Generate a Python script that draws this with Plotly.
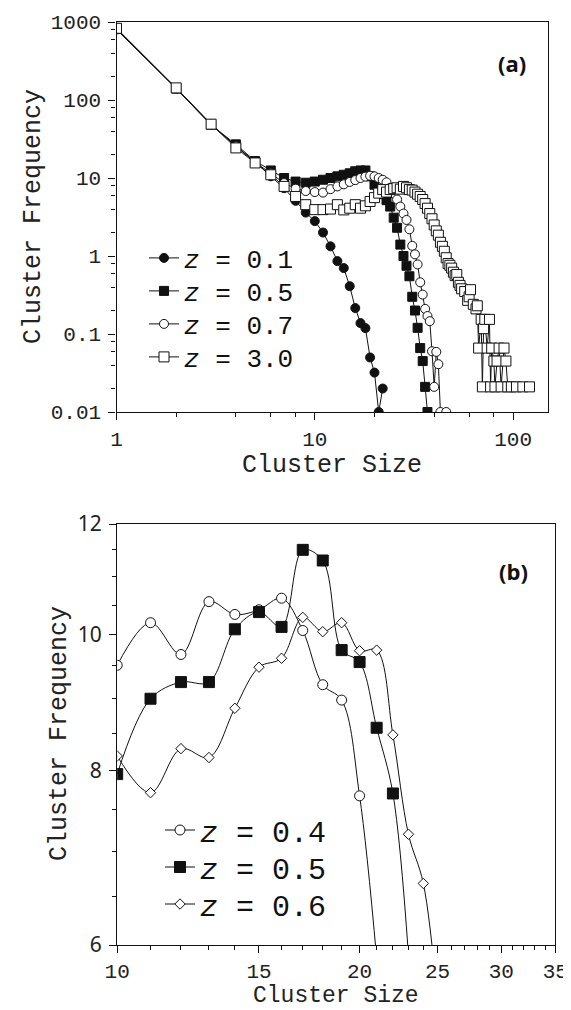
import plotly.graph_objects as go

# ---------------- Panel (a) data ----------------
size_a01 = [1, 2, 3, 4, 5, 6, 7, 8, 9, 10, 11, 12, 13, 14, 15, 16, 17, 18, 19, 20, 21, 22]
freq_a01 = [800, 140, 48, 26, 16, 10.5, 7.4, 5.1, 3.6, 2.8, 2.0, 1.33, 0.86, 0.70, 0.41, 0.215,
            0.138, 0.119, 0.050, 0.032, 0.01, 0.020]

size_a05 = [1, 2, 3, 4, 5, 6, 7, 8, 9, 10, 11, 12, 13, 14, 15, 16, 17, 18, 19, 20, 21, 22, 23, 24,
            25, 26, 27, 28, 29, 30, 31, 32, 33, 34, 35, 36, 37]
freq_a05 = [820, 140, 48, 27, 16.5, 12.5, 10, 9, 8.7, 9.0, 9.5, 10, 10.5, 11, 11.5, 12.2, 12.5, 12.5,
            10.5, 8.2, 7.0, 6.2, 5.2, 4.3, 3.1, 2.3, 1.4, 1.0, 0.75, 0.55, 0.3, 0.2, 0.12, 0.066,
            0.045, 0.021, 0.01]

size_a07 = [1, 2, 3, 4, 5, 6, 7, 8, 9, 10, 11, 12, 13, 14, 15, 16, 17, 18, 19, 20, 21, 22, 23, 24,
            25, 26, 27, 28, 29, 30, 31, 32, 33, 34, 35, 36, 37, 38, 39, 40, 41, 42, 43, 46]
freq_a07 = [810, 142, 49, 25.5, 16, 11.5, 8.6, 7.3, 6.8, 6.6, 6.5, 7.2, 7.8, 8.3, 8.9, 9.4, 10,
            10.4, 10.7, 10.5, 10, 9.5, 8.8, 7.5, 6.3, 5.3, 4.3, 3.5, 2.9, 2.2, 1.35, 1.05, 0.78,
            0.46, 0.32, 0.21, 0.17, 0.146, 0.06, 0.021, 0.059, 0.041, 0.01, 0.01]

size_a30 = [1, 2, 3, 4, 5, 6, 7, 8, 9, 10, 11, 12, 13, 14, 15, 16, 17, 18, 19, 20, 21, 22, 23, 24,
            25, 26, 27, 28, 29, 30, 31, 32, 33, 34, 35, 36, 37, 38, 39, 40, 41, 42, 43, 44, 45, 46,
            47, 48, 49, 50, 51, 52, 53, 54, 55, 57, 59, 60, 61, 63, 65, 66, 67, 69, 70, 71, 72, 74,
            76, 77, 78, 80, 81, 83, 85, 87, 90, 92, 94, 98, 104, 112, 121]
freq_a30 = [830, 143, 49, 24.3, 15.6, 11.0, 7.8, 5.8, 4.55, 3.93, 3.93, 4.0, 4.55, 3.9, 4.1, 4.55,
            4.1, 4.4, 5.0, 5.6, 6.4, 7.1, 6.6, 7.1, 7.3, 7.5, 7.2, 7.8, 7.5, 7.1, 7.0, 6.6, 6.2,
            5.8, 5.3, 4.7, 4.1, 3.5, 3.0, 2.5, 2.1, 1.85, 1.5, 1.33, 1.15, 0.95, 0.80, 0.76, 0.70,
            0.62, 0.56, 0.58, 0.46, 0.42, 0.38, 0.35, 0.27, 0.30, 0.37, 0.24, 0.21, 0.23, 0.066,
            0.154, 0.021, 0.117, 0.154, 0.066, 0.154, 0.021, 0.066, 0.045, 0.021, 0.045, 0.066,
            0.021, 0.066, 0.045, 0.021, 0.021, 0.021, 0.021, 0.021]

# ---------------- Panel (b) data ----------------
size_b04 = [10, 11, 12, 13, 14, 15, 16, 17, 18, 19, 20, 21]
freq_b04 = [9.51, 10.2, 9.68, 10.56, 10.34, 10.42, 10.62, 10.07, 9.21, 8.98, 7.67, 5.87]

size_b05 = [10, 11, 12, 13, 14, 15, 16, 17, 18, 19, 20, 21, 22, 23]
freq_b05 = [7.95, 9.0, 9.25, 9.25, 10.09, 10.38, 10.13, 11.5, 11.3, 9.75, 9.56, 8.58, 7.70, 5.9]

size_b06 = [10, 11, 12, 13, 14, 15, 16, 17, 18, 19, 20, 21, 22, 23, 24, 25]
freq_b06 = [8.19, 7.71, 8.29, 8.17, 8.86, 9.48, 9.62, 10.29, 10.05, 10.2, 9.74, 9.75, 8.48, 7.2,
            6.64, 5.45]

labels_a = ["<i>z</i> = 0.1", "<i>z</i> = 0.5", "<i>z</i> = 0.7", "<i>z</i> = 3.0"]
labels_b = ["<i>z</i> = 0.4", "<i>z</i> = 0.5", "<i>z</i> = 0.6"]

W, H = 571, 1010
MONO = "Liberation Mono, Courier New, monospace"
BLK = "#111111"

def px_x(p):
    return p / W

def px_y(p):
    return 1 - p / H

fig = go.Figure()

def add(x, y, name, symbol, fill, size, xa, ya, leg, shape="linear"):
    fig.add_trace(go.Scatter(
        x=x, y=y, name=name, mode="lines+markers",
        xaxis=xa, yaxis=ya, legend=leg, showlegend=True,
        line=dict(color=BLK, width=1, shape=shape),
        marker=dict(symbol=symbol, size=size, color=fill,
                    line=dict(color=BLK, width=1)),
    ))

# one single-entry legend per series so the rows can sit at the reference spacing
add(size_a01, freq_a01, labels_a[0], "circle", BLK, 9, "x", "y", "legend")
add(size_a05, freq_a05, labels_a[1], "square", BLK, 9, "x", "y", "legend2")
add(size_a07, freq_a07, labels_a[2], "circle", "white", 9, "x", "y", "legend3")
add(size_a30, freq_a30, labels_a[3], "square", "white", 10, "x", "y", "legend4")

add(size_b04, freq_b04, labels_b[0], "circle", "white", 10, "x2", "y2", "legend5", "spline")
add(size_b05, freq_b05, labels_b[1], "square", BLK, 11, "x2", "y2", "legend6", "spline")
add(size_b06, freq_b06, labels_b[2], "diamond", "white", 8, "x2", "y2", "legend7", "spline")

def leg(xp, yp, size):
    return dict(
        x=px_x(xp), y=px_y(yp), xanchor="left", yanchor="middle",
        bgcolor="rgba(0,0,0,0)", borderwidth=0,
        font=dict(family=MONO, size=size, color="#111"),
        itemwidth=30,
    )

axis_common = dict(
    showgrid=False, zeroline=False, showline=True, mirror=True, automargin=False,
    linecolor=BLK, linewidth=1.3, ticks="outside", tickcolor=BLK,
    tickwidth=1.2, ticklen=7,
)

fig.update_layout(
    width=W, height=H, showlegend=True,
    margin=dict(l=0, r=0, t=0, b=0, autoexpand=False),
    paper_bgcolor="white", plot_bgcolor="white",
    xaxis=dict(
        axis_common, type="log", range=[0, 2.176],
        domain=[px_x(108.5), px_x(540)], anchor="y",
        tickmode="array", tickvals=[1, 10, 100], ticktext=["1", "10", "100"],
        tickfont=dict(family=MONO, size=21, color="#222"),
        ticklabelstandoff=1,
        minor=dict(tickmode="array", tickvals=[2, 4, 6, 8, 20, 40, 60, 80],
                   ticks="outside", ticklen=4, tickcolor=BLK, tickwidth=1),
    ),
    yaxis=dict(
        axis_common, type="log", range=[-2, 3],
        domain=[px_y(404), px_y(14)], anchor="x",
        tickmode="array", tickvals=[0.01, 0.1, 1, 10, 100, 1000],
        ticktext=["0.01", "0.1", "1", "10", "100", "1000"],
        tickfont=dict(family=MONO, size=21, color="#222"),
        ticklabelstandoff=3,
        minor=dict(tickmode="array",
                   tickvals=[0.02, 0.04, 0.06, 0.08, 0.2, 0.4, 0.6, 0.8, 2, 4, 6, 8,
                             20, 40, 60, 80, 200, 400, 600, 800],
                   ticks="outside", ticklen=4, tickcolor=BLK, tickwidth=1),
    ),
    xaxis2=dict(
        axis_common, type="log", range=[1, 1.5441],
        domain=[px_x(109.2), px_x(547.3)], anchor="y2",
        tickmode="array", tickvals=[10, 15, 20, 25, 30, 35],
        ticktext=["10", "15", "20", "25", "30", "35"],
        tickfont=dict(family=MONO, size=21, color="#222"),
        ticklabelstandoff=0,
        minor=dict(tickmode="array",
                   tickvals=[11, 12, 13, 14, 16, 17, 18, 19, 21, 22, 23, 24, 26, 27, 28, 29,
                             31, 32, 33, 34],
                   ticks="outside", ticklen=4, tickcolor=BLK, tickwidth=1),
    ),
    yaxis2=dict(
        axis_common, type="log", range=[0.778151, 1.079181],
        domain=[px_y(937), px_y(516)], anchor="x2",
        tickmode="array", tickvals=[6, 8, 10, 12], ticktext=["6", "8", "10", "12"],
        tickfont=dict(family="Noto Sans", size=21, color="#222"),
        ticklabelstandoff=3,
        minor=dict(tickmode="array",
                   tickvals=[6.5, 7, 7.5, 8.5, 9, 9.5, 10.5, 11, 11.5],
                   ticks="outside", ticklen=4, tickcolor=BLK, tickwidth=1),
    ),
    legend=leg(136, 250, 26),
    legend2=leg(136, 283, 26),
    legend3=leg(136, 316, 26),
    legend4=leg(136, 349, 26),
    legend5=leg(152, 822, 30),
    legend6=leg(152, 859, 30),
    legend7=leg(152, 896, 30),
    annotations=[
        dict(text="<b>(a)</b>", x=px_x(504), y=px_y(55), xref="paper", yref="paper",
             showarrow=False, font=dict(family="Open Sans", size=22, color="#111"),
             xanchor="center", yanchor="middle"),
        dict(text="<b>(b)</b>", x=px_x(505), y=px_y(563), xref="paper", yref="paper",
             showarrow=False, font=dict(family="Open Sans", size=22, color="#111"),
             xanchor="center", yanchor="middle"),
        dict(text="Cluster Size", x=px_x(324), y=px_y(458), xref="paper", yref="paper",
             showarrow=False, font=dict(family=MONO, size=25, color="#222"),
             xanchor="center", yanchor="middle"),
        dict(text="Cluster Frequency", x=px_x(26), y=px_y(209), xref="paper", yref="paper",
             showarrow=False, textangle=-90, font=dict(family=MONO, size=25, color="#222"),
             xanchor="center", yanchor="middle"),
        dict(text="Cluster Size", x=px_x(328), y=px_y(988), xref="paper", yref="paper",
             showarrow=False, font=dict(family=MONO, size=23, color="#222"),
             xanchor="center", yanchor="middle"),
        dict(text="Cluster Frequency", x=px_x(51), y=px_y(726), xref="paper", yref="paper",
             showarrow=False, textangle=-90, font=dict(family=MONO, size=25, color="#222"),
             xanchor="center", yanchor="middle"),
    ],
)

fig.write_html("out.html")
